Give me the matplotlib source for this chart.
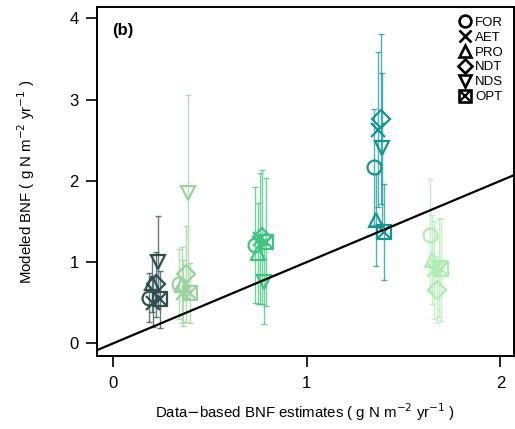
import matplotlib
matplotlib.use("Agg")
import matplotlib.pyplot as plt
from matplotlib.lines import Line2D

plt.rcParams['font.family'] = ['Liberation Sans', 'DejaVu Sans']

# model names and marker used for each
models = ["FOR", "AET", "PRO", "NDT", "NDS", "OPT"]
markers = ["o", "x", "^", "D", "v", "s"]
# small horizontal shift per model so bars don't overlap
model_offsets = [-0.030, -0.008, -0.016, 0.006, 0.016, 0.026]

# data-based BNF estimate for each site group
obs_bnf = [0.215, 0.370, 0.765, 1.375, 1.665]
group_colors = ["#2f4f4f", "#9ad39c", "#3ec47e", "#159494", "#b0ecb0"]

# modeled BNF mean and sd (rows: groups, columns: models)
mod_mean = [
    [0.56, 0.50, 0.74, 0.73, 1.00, 0.54],
    [0.73, 0.62, 0.72, 0.85, 1.85, 0.62],
    [1.21, 1.29, 1.11, 1.31, 0.76, 1.25],
    [2.17, 2.63, 1.52, 2.76, 2.40, 1.37],
    [1.33, 0.90, 1.03, 0.66, 0.93, 0.91],
]
mod_sd = [
    [0.30, 0.30, 0.35, 0.40, 0.57, 0.35],
    [0.43, 0.40, 0.47, 0.59, 1.21, 0.37],
    [0.71, 0.81, 0.62, 0.82, 0.52, 0.79],
    [0.71, 0.95, 0.57, 1.05, 0.93, 0.59],
    [0.69, 0.60, 0.55, 0.41, 0.60, 0.63],
]

fig = plt.figure(figsize=(5.15, 4.29), dpi=100)
ax = fig.add_axes([0.188, 0.170, 0.810, 0.814])

for g, xo in enumerate(obs_bnf):
    col = group_colors[g]
    for m, mk in enumerate(markers):
        x = xo + model_offsets[m]
        y = mod_mean[g][m]
        ax.errorbar(x, y, yerr=mod_sd[g][m], fmt="none", ecolor=col,
                    elinewidth=1.0, capsize=2.5, capthick=1.0, alpha=0.75, zorder=2)
        ax.plot(x, y, marker=mk, ms=10 if mk != "D" else 9, mfc="none",
                mec=col, mew=1.6, ls="none", zorder=3)
        if mk == "s":
            ax.plot(x, y, marker="x", ms=8, mec=col, mew=1.6, ls="none", zorder=3)

# 1:1 line
ax.axline((0, 0), slope=1, color="black", lw=1.6, zorder=4)

ax.set_xlim(-0.084, 2.07)
ax.set_ylim(-0.156, 4.14)
ax.set_xticks([0, 1, 2])
ax.set_yticks([0, 1, 2, 3, 4])
ax.tick_params(axis="both", labelsize=12, length=8, width=1.2, direction="out")
ax.tick_params(axis="x", pad=6)
ax.tick_params(axis="y", pad=5)
for sp in ax.spines.values():
    sp.set_linewidth(1.4)

ax.set_xlabel(r"Data$-$based BNF estimates ( g N m$^{-2}$ yr$^{-1}$ )", fontsize=10.8, labelpad=8)
ax.set_ylabel(r"Modeled BNF ( g N m$^{-2}$ yr$^{-1}$ )", fontsize=10.8, labelpad=23)

ax.text(0.036, 0.933, "(b)", transform=ax.transAxes, fontsize=12, fontweight="bold",
        ha="left", va="center")

handles = []
for mk in markers:
    h = Line2D([], [], marker=mk, ms=8.5 if mk != "D" else 7.5, mfc="none", mec="black",
               mew=1.9, ls="none")
    if mk == "s":
        h = (h, Line2D([], [], marker="x", ms=6.5, mec="black", mew=1.6, ls="none"))
    handles.append(h)
ax.legend(handles, models, loc="upper right", bbox_to_anchor=(0.995, 0.995), frameon=False,
          fontsize=9.5, handlelength=0.9, handletextpad=0.35, labelspacing=0.2,
          borderaxespad=0.2)

fig.savefig("out.png", dpi=100)
